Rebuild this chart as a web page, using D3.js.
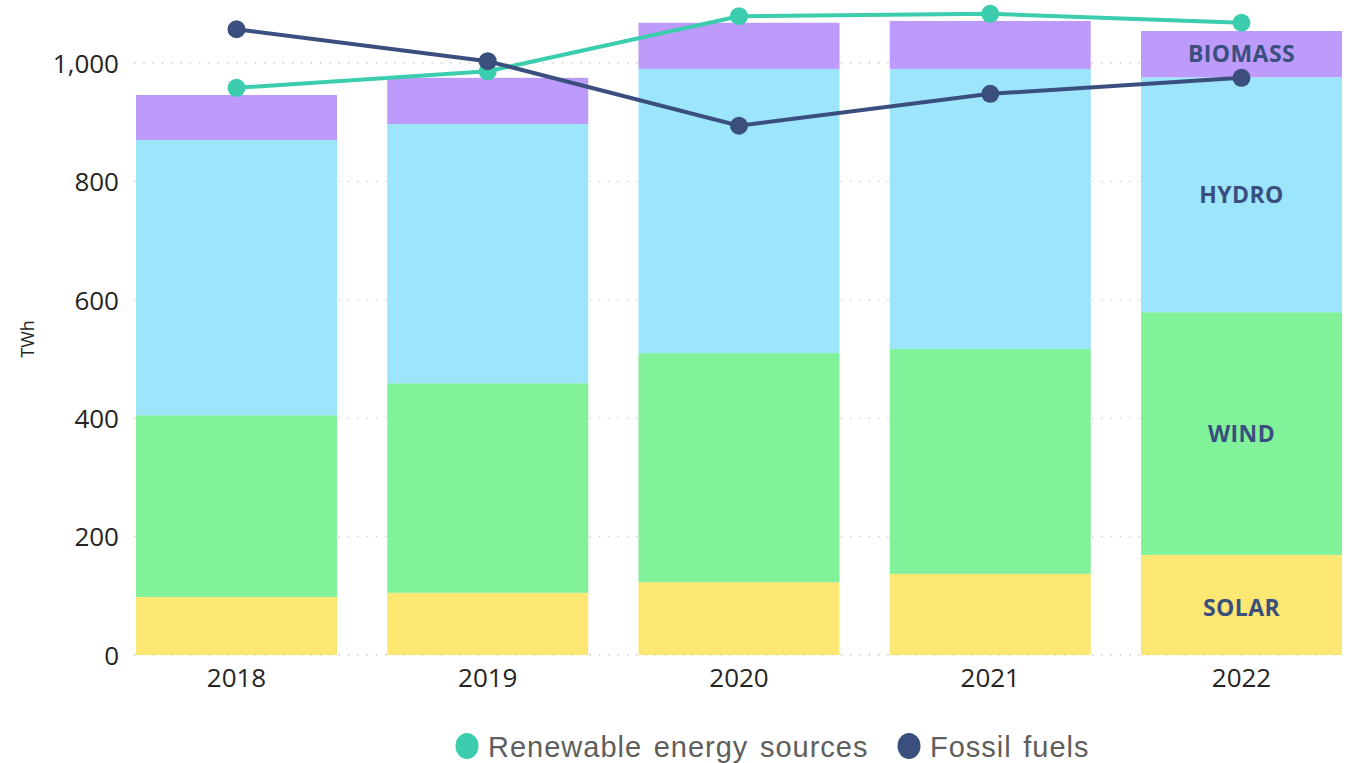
<!DOCTYPE html>
<html><head><meta charset="utf-8">
<script src="https://cdn.jsdelivr.net/npm/d3@7"></script>
<style>body{margin:0;background:#fff;} svg{display:block;}</style>
</head><body>
<svg id="chart" width="1348" height="763"></svg>
<script>
const years = ["2018","2019","2020","2021","2022"];
const solar   = [98, 105, 123, 137, 169];
const wind    = [307, 354, 387, 380, 410];
const hydro   = [465, 438, 480, 473, 397];
const biomass = [76, 78, 78, 81, 78];
const renewable = [958, 986, 1079, 1083, 1068];
const fossil    = [1057, 1003, 894, 948, 975];
const yTicks = [0, 200, 400, 600, 800, 1000];
const seriesNames = ["SOLAR","WIND","HYDRO","BIOMASS"];
const seriesColors = ["#FCE773","#82F29A","#9CE5FB","#BC9BFA"];
const lineNames = ["Renewable energy sources","Fossil fuels"];
const lineColors = ["#3CCDAF","#3A4F7E"];

const svg = d3.select("#chart");
const x = d3.scaleBand().domain(years).range([136,1342]).paddingInner(0.2).paddingOuter(0);
const y = d3.scaleLinear().domain([0,1000]).range([655,63]);

// gridlines
svg.append("g").selectAll("line").data(yTicks).join("line")
  .attr("x1",134).attr("x2",1342)
  .attr("y1",d=>y(d)).attr("y2",d=>y(d))
  .attr("stroke","#c8c8c8").attr("stroke-width",1.3).attr("stroke-dasharray","1.3,8");

// y axis
const yAxis = d3.axisLeft(y).tickValues(yTicks).tickSize(0).tickPadding(0).tickFormat(d3.format(","));
const ga = svg.append("g").attr("transform","translate(119,0)").call(yAxis);
ga.select(".domain").remove();
ga.selectAll("text").attr("font-family","'Open Sans', sans-serif").attr("font-size",26).attr("fill","#252423").attr("dy","0.36em");

svg.append("text").attr("transform","translate(34,339) rotate(-90)")
  .attr("text-anchor","middle").attr("font-family","'Open Sans', sans-serif")
  .attr("font-size",18).attr("fill","#252423").text("TWh");

// stacked bars
const data = years.map((yr,i)=>({year:yr, SOLAR:solar[i], WIND:wind[i], HYDRO:hydro[i], BIOMASS:biomass[i]}));
const stack = d3.stack().keys(seriesNames)(data);
svg.append("g").selectAll("g").data(stack).join("g")
  .attr("fill",(d,i)=>seriesColors[i])
  .selectAll("rect").data(d=>d).join("rect")
  .attr("x",d=>x(d.data.year)).attr("width",x.bandwidth())
  .attr("y",d=>y(d[1])).attr("height",d=>y(d[0])-y(d[1]));

// x axis
const xAxis = d3.axisBottom(x).tickSize(0).tickPadding(0);
const gx = svg.append("g").attr("transform","translate(0,687)").call(xAxis);
gx.select(".domain").remove();
gx.selectAll("text").attr("font-family","'Open Sans', sans-serif").attr("font-size",26).attr("fill","#252423").attr("dy","0").attr("y",0);

// labels in last bar
const last = stack.map(s=>s[s.length-1]);
const labelDy = [0.5, 0, 0, 0];
svg.append("g").selectAll("text").data(last).join("text")
  .attr("x",x(years[4])+x.bandwidth()/2)
  .attr("y",(d)=>y((d[0]+d[1])/2))
  .attr("dy",(d,i)=>(0.36+labelDy[i]*0.2)+"em")
  .attr("text-anchor","middle").attr("font-family","'Open Sans', sans-serif")
  .attr("font-weight","bold").attr("font-size",23).attr("letter-spacing",0.4)
  .attr("fill","#3A4F7E")
  .text((d,i)=>seriesNames[i]);

// lines
const lineSeries = [renewable, fossil];
const lineGen = d3.line().x((d,i)=>x(years[i])+x.bandwidth()/2).y(d=>y(d));
lineSeries.forEach((s,k)=>{
  const g = svg.append("g");
  g.append("path").datum(s).attr("d",lineGen).attr("fill","none")
    .attr("stroke",lineColors[k]).attr("stroke-width",4);
  g.selectAll("circle").data(s).join("circle")
    .attr("cx",(d,i)=>x(years[i])+x.bandwidth()/2).attr("cy",d=>y(d)).attr("r",9)
    .attr("fill",lineColors[k]);
});

// legend
const legX = [467, 909];
const lg = svg.append("g");
lineNames.forEach((n,k)=>{
  lg.append("ellipse").attr("cx",legX[k]).attr("cy",746).attr("rx",11.5).attr("ry",13).attr("fill",lineColors[k]);
  lg.append("text").attr("x",legX[k]+21).attr("y",757)
    .attr("font-family","'Liberation Sans', Arial, sans-serif").attr("font-size",29)
    .attr("letter-spacing",1.0).attr("word-spacing",2.5)
    .attr("fill","#605E5C").text(n);
});
</script>
</body></html>
